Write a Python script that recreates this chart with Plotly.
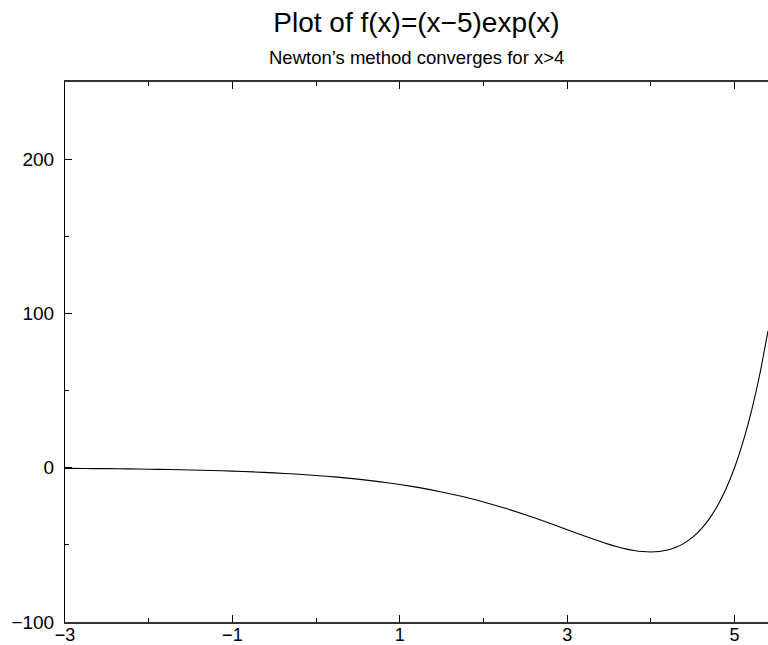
import plotly.graph_objects as go

x_vals = [-3.0, -2.75, -2.5, -2.25, -2.0, -1.75, -1.5, -1.25, -1.0, -0.75, -0.5, -0.25,
          0.0, 0.25, 0.5, 0.75, 1.0, 1.25, 1.5, 1.75, 2.0, 2.25, 2.5, 2.75, 3.0, 3.25,
          3.5, 3.6, 3.7, 3.8, 3.9, 4.0, 4.1, 4.2, 4.3, 4.4, 4.5, 4.6, 4.7, 4.8, 4.9,
          5.0, 5.1, 5.2, 5.3, 5.4]
y_vals = [-0.40, -0.50, -0.62, -0.76, -0.95, -1.17, -1.45, -1.79, -2.21, -2.72, -3.34, -4.09,
          -5.00, -6.10, -7.42, -9.00, -10.87, -13.09, -15.69, -18.70, -22.17, -26.09, -30.46, -35.20, -40.17, -45.13,
          -49.67, -51.24, -52.58, -53.64, -54.34, -54.60, -54.31, -53.35, -51.59, -48.87, -45.01, -39.79, -32.98, -24.30, -13.43,
          0.0, 16.40, 36.25, 60.10, 88.57]

x_range = [-3, 5.4]
y_range = [-100, 250]

title_text = "Plot of f(x)=(x\u22125)exp(x)"
subtitle_text = "Newton\u2019s method converges for x>4"

FONT = "Liberation Sans, Arial, Helvetica, sans-serif"

fig = go.Figure()
fig.add_trace(go.Scatter(x=x_vals, y=y_vals, mode="lines",
                         line=dict(color="black", width=1.1, shape="spline", smoothing=0.6),
                         showlegend=False, hoverinfo="skip"))

fig.update_layout(
    width=768, height=645,
    paper_bgcolor="white", plot_bgcolor="white",
    margin=dict(l=65, r=0, t=82, b=23, autoexpand=False),
    font=dict(family=FONT, color="black"),
    title=dict(text=title_text, x=0.5, xref="paper", xanchor="center",
               y=1 - 22 / 645, yref="container", yanchor="middle",
               font=dict(family=FONT, size=28, color="black")),
    annotations=[dict(text=subtitle_text, xref="paper", yref="paper", x=0.5, y=1 + (82 - 58) / 540,
                      xanchor="center", yanchor="middle", showarrow=False,
                      font=dict(family=FONT, size=18.5, color="black"))],
)

fig.update_xaxes(
    range=x_range, tick0=-3, dtick=2, ticks="inside", ticklen=7, tickwidth=1, tickcolor="black",
    minor=dict(dtick=1, ticks="inside", ticklen=4, tickcolor="black", tickwidth=1),
    showline=True, linecolor="#333", linewidth=1.5, mirror="ticks",
    showgrid=False, zeroline=False, tickfont=dict(size=18, family=FONT, color="black"),
    ticklabelstandoff=-4, automargin=False, fixedrange=True,
)
fig.update_yaxes(
    range=y_range, tick0=-100, dtick=100, ticks="inside", ticklen=7, tickwidth=1, tickcolor="black",
    minor=dict(dtick=50, ticks="inside", ticklen=4, tickcolor="black", tickwidth=1),
    showline=True, linecolor="black", linewidth=1, mirror=False,
    showgrid=False, zeroline=False, tickfont=dict(size=19, family=FONT, color="black"),
    ticklabelstandoff=6, automargin=False, fixedrange=True,
)

fig.write_html("out.html", config={"displayModeBar": False},
               post_script="document.body.style.margin='0';document.body.style.overflow='hidden';")
